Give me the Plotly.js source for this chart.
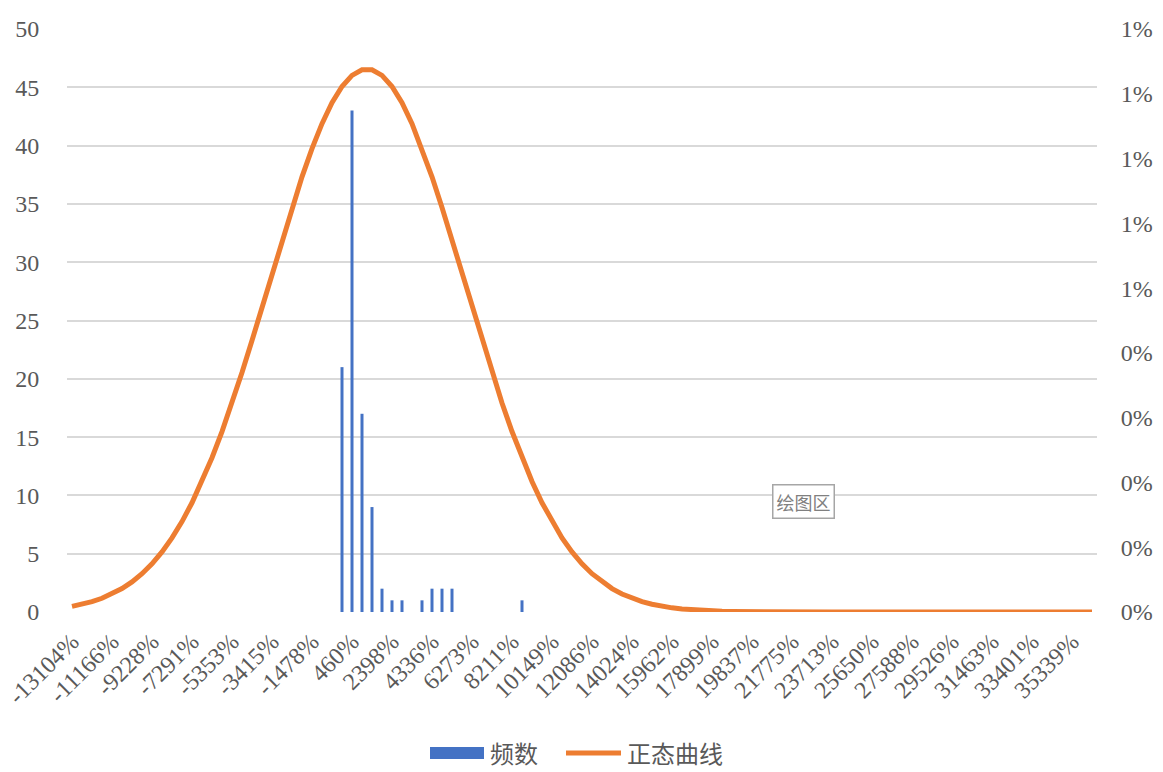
<!DOCTYPE html>
<html>
<head>
<meta charset="utf-8">
<script src="https://cdn.plot.ly/plotly-3.0.1.min.js"></script>
<style>
  html, body { margin: 0; padding: 0; background: #fff; }
  #plot { width: 1163px; height: 772px; }
</style>
</head>
<body>
<div id="plot"></div>
<script>
// x axis labels, one for every 4th bin
const tickLabels = ['-13104%', '-11166%', '-9228%', '-7291%', '-5353%', '-3415%', '-1478%',
  '460%', '2398%', '4336%', '6273%', '8211%', '10149%', '12086%', '14024%', '15962%',
  '17899%', '19837%', '21775%', '23713%', '25650%', '27588%', '29526%', '31463%',
  '33401%', '35339%'];

// histogram counts per bin (103 bins)
const counts = [
  0, 0, 0, 0, 0, 0, 0, 0, 0, 0,
  0, 0, 0, 0, 0, 0, 0, 0, 0, 0,
  0, 0, 0, 0, 0, 0, 0, 21, 43, 17,
  9, 2, 1, 1, 0, 1, 2, 2, 2, 0,
  0, 0, 0, 0, 0, 1, 0, 0, 0, 0,
  0, 0, 0, 0, 0, 0, 0, 0, 0, 0,
  0, 0, 0, 0, 0, 0, 0, 0, 0, 0,
  0, 0, 0, 0, 0, 0, 0, 0, 0, 0,
  0, 0, 0, 0, 0, 0, 0, 0, 0, 0,
  0, 0, 0, 0, 0, 0, 0, 0, 0, 0,
  0, 0, 0
];

// normal curve, right axis
const density = [
  0.0000878, 0.000119, 0.000160, 0.000212, 0.000278, 0.000361, 0.000465, 0.000591, 0.000744, 0.000928,
  0.001144, 0.001396, 0.001686, 0.002014, 0.002381, 0.002786, 0.003226, 0.003697, 0.004193, 0.004705,
  0.005224, 0.005741, 0.006243, 0.006718, 0.007153, 0.007539, 0.007861, 0.008112, 0.008284, 0.008371,
  0.008371, 0.008284, 0.008112, 0.007861, 0.007539, 0.007153, 0.006718, 0.006243, 0.005741, 0.005224,
  0.004705, 0.004193, 0.003697, 0.003226, 0.002786, 0.002381, 0.002014, 0.001686, 0.001396, 0.001144,
  0.000928, 0.000744, 0.000591, 0.000465, 0.000361, 0.000278, 0.000212, 0.000160, 0.000119, 0.0000878,
  0.0000641, 0.0000463, 0.0000331, 0.0000234, 0.0000164, 0.0000114, 0.0000078, 0.0000053, 0.0000036, 0.0000024,
  0.0000016, 0.000001, 0.0000006, 0.0000004, 0.0000002, 0.0000001, 0, 0, 0, 0,
  0, 0, 0, 0, 0, 0, 0, 0, 0, 0,
  0, 0, 0, 0, 0, 0, 0, 0, 0, 0,
  0, 0, 0
];

// right axis labels
const rightTicks = [0, 0.001, 0.002, 0.003, 0.004, 0.005, 0.006, 0.007, 0.008, 0.009];
const rightLabels = ['0%', '0%', '0%', '0%', '0%', '1%', '1%', '1%', '1%', '1%'];

const seriesNames = ['频数', '正态曲线'];

const bins = counts.map((_, i) => i);
const tickPos = tickLabels.map((_, j) => j * 4);

const blue = '#4472C4';
const orange = '#ED7D31';
const grey = '#595959';
const serif = 'Liberation Serif, Times New Roman, serif';
const cjk = 'Noto Sans CJK SC, sans-serif';

// plot area in pixels, for placing the hand-made legend
const L = 67, T = 29, W = 1030, H = 583;
const px = x => (x - L) / W;
const py = y => (T + H - y) / H;

const traces = [
  { x: bins, y: counts, type: 'bar', name: seriesNames[0], width: 0.3,
    marker: { color: blue }, hoverinfo: 'skip' },
  { x: bins, y: density, type: 'scatter', mode: 'lines', name: seriesNames[1], yaxis: 'y2',
    line: { color: orange, width: 5 }, hoverinfo: 'skip' }
];

const layout = {
  width: 1163, height: 772,
  margin: { l: L, r: 1163 - L - W, t: T, b: 772 - T - H },
  paper_bgcolor: '#fff', plot_bgcolor: '#fff',
  showlegend: false,
  font: { family: serif, color: grey, size: 24 },
  xaxis: {
    range: [-0.5, 102.5], tickmode: 'array', tickvals: tickPos, ticktext: tickLabels,
    tickangle: -45, ticks: 'outside', ticklen: 5, tickcolor: 'rgba(0,0,0,0)',
    showgrid: false, zeroline: false, showline: false,
    tickfont: { family: serif, size: 24, color: grey }
  },
  yaxis: {
    range: [0, 50], dtick: 5, ticks: 'outside', ticklen: 22, tickcolor: 'rgba(0,0,0,0)',
    gridcolor: '#d9d9d9', gridwidth: 2, zeroline: false, showline: false,
    tickfont: { family: serif, size: 24, color: grey }
  },
  yaxis2: {
    overlaying: 'y', side: 'right', range: [0, 0.009],
    tickmode: 'array', tickvals: rightTicks, ticktext: rightLabels,
    ticks: 'outside', ticklen: 18, tickcolor: 'rgba(0,0,0,0)',
    showgrid: false, zeroline: false, showline: false,
    tickfont: { family: serif, size: 24, color: grey }
  },
  shapes: [
    { type: 'rect', xref: 'paper', yref: 'paper', x0: px(430), x1: px(484),
      y0: py(759), y1: py(747), fillcolor: blue, line: { width: 0 } },
    { type: 'line', xref: 'paper', yref: 'paper', x0: px(566), x1: px(621),
      y0: py(753), y1: py(753), line: { color: orange, width: 5 } }
  ],
  annotations: [
    { xref: 'paper', yref: 'paper', x: px(488), y: py(753),
      xanchor: 'left', yanchor: 'middle', showarrow: false, text: seriesNames[0],
      font: { family: cjk, size: 24, color: grey } },
    { xref: 'paper', yref: 'paper', x: px(625), y: py(753),
      xanchor: 'left', yanchor: 'middle', showarrow: false, text: seriesNames[1],
      font: { family: cjk, size: 24, color: grey } },
    { xref: 'paper', yref: 'paper', x: px(803), y: py(501),
      xanchor: 'center', yanchor: 'middle', showarrow: false, text: '绘图区',
      font: { family: cjk, size: 18, color: '#808080' },
      bgcolor: '#fff', bordercolor: '#a6a6a6', borderwidth: 1.5, borderpad: 3 }
  ]
};

Plotly.newPlot('plot', traces, layout, { staticPlot: true });
</script>
</body>
</html>
